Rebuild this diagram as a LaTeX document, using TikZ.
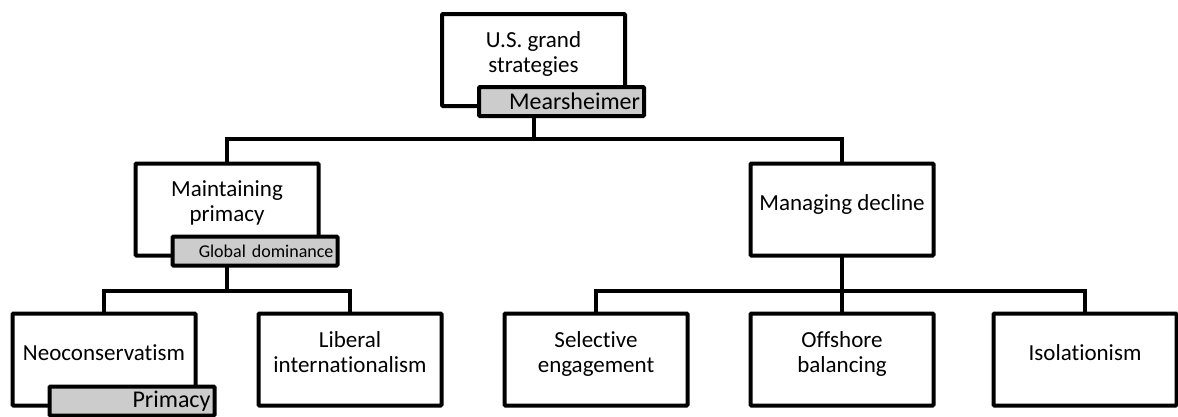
\documentclass[tikz,border=0pt]{standalone}
\usepackage{fontspec}
\setmainfont{Carlito}[Ligatures=NoCommon]
\definecolor{tagfill}{RGB}{204,204,204}
\begin{document}
\begin{tikzpicture}[x=1pt,y=-1pt,
  every node/.style={outer sep=0pt},
  boxnode/.style={draw=black, line width=4pt, fill=white, minimum width=183pt,
    minimum height=92pt, inner sep=0pt, rounded corners=1pt},
  boxtext/.style={inner sep=0pt, align=center, anchor=base,
    font=\fontsize{23}{25}\selectfont},
  tagnode/.style={draw=black, line width=4pt, fill=tagfill, minimum width=165pt,
    minimum height=29pt, inner xsep=4pt, inner ysep=0pt, text width=157pt,
    align=right, font=\fontsize{24}{25}\selectfont, anchor=north west,
    rounded corners=1pt},
  link/.style={line width=4pt}]
\useasboundingbox (0,0) rectangle (1178,416);

% rows of the hierarchy
\node[boxnode] (usgs) at (533.5,60) {};
\node[boxnode] (primacy) at (227,209.5) {};
\node[boxnode] (decline) at (842,209.5) {};
\node[boxnode] (neocon) at (104,359.5) {};
\node[boxnode] (libint) at (350,359.5) {};
\node[boxnode] (seleng) at (596,359.5) {};
\node[boxnode] (offbal) at (842,359.5) {};
\node[boxnode] (isol) at (1085,359.5) {};

% box texts, placed by the baseline of their last line
\node[boxtext] (usgs-t) at ([yshift=-12pt]usgs.center) {U.S. grand\\strategies};
\node[boxtext] (primacy-t) at ([yshift=-12pt]primacy.center) {Maintaining\\primacy};
\node[boxtext] (decline-t) at ([yshift=-1pt]decline.center) {Managing decline};
\node[boxtext] (neocon-t) at ([yshift=-1pt]neocon.center) {Neoconservatism};
\node[boxtext] (libint-t) at ([yshift=-13pt]libint.center) {Liberal\\internationalism};
\node[boxtext] (seleng-t) at ([yshift=-13pt]seleng.center) {Selective\\engagement};
\node[boxtext] (offbal-t) at ([yshift=-13pt]offbal.center) {Offshore\\balancing};
\node[boxtext] (isol-t) at ([yshift=-1pt]isol.center) {Isolationism};

% grey name tags on the lower edge of some boxes
\node[tagnode] (mtag) at ([xshift=37pt,yshift=19pt]usgs.south west) {Mearsheimer};
\node[tagnode, font=\fontsize{18}{20}\selectfont] (gtag) at ([xshift=37pt,yshift=19pt]primacy.south west) {Global dominance};
\node[tagnode] (ptag) at ([xshift=37pt,yshift=19pt]neocon.south west) {Primacy};

% levels of the horizontal bars
\coordinate (y1) at (0,139);
\coordinate (y2) at (0,291);

% connectors
\draw[link] (usgs |- mtag.south) -- (usgs |- y1);
\draw[link] (primacy.north) -- (primacy |- y1) -- (decline |- y1) -- (decline.north);
\draw[link] (primacy |- gtag.south) -- (primacy |- y2);
\draw[link] (neocon.north) -- (neocon |- y2) -- (libint |- y2) -- (libint.north);
\draw[link] (decline.south) -- (decline |- y2);
\draw[link] (seleng.north) -- (seleng |- y2) -- (isol |- y2) -- (isol.north);
\draw[link] (offbal.north) -- (offbal |- y2);
\end{tikzpicture}
\end{document}
